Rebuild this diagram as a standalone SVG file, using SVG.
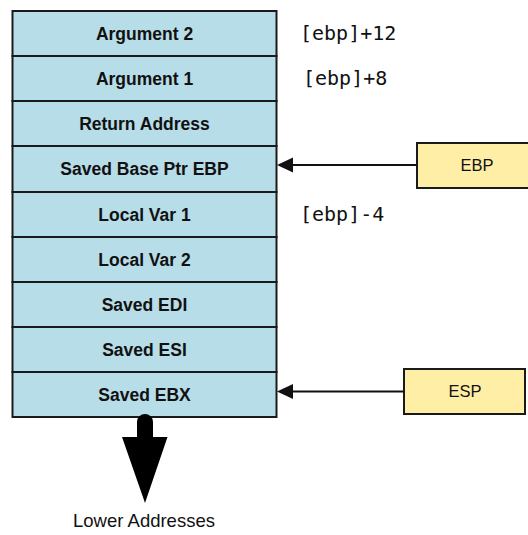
<svg xmlns="http://www.w3.org/2000/svg" width="528" height="535" viewBox="0 0 528 535">
<style>
.cell{fill:#b7dde8;stroke:#1a1a1a;stroke-width:2}
.lbl{font-family:"Liberation Sans",Arial,sans-serif;font-weight:bold;font-size:17.5px;fill:#111;text-anchor:middle}
.off{font-family:"DejaVu Sans Mono",monospace;font-size:20px;fill:#111}
.reg{fill:#ffeea6;stroke:#1a1a1a;stroke-width:2}
.regt{font-family:"Liberation Sans",Arial,sans-serif;font-size:16.5px;fill:#111;text-anchor:middle}
.conn{stroke:#111;stroke-width:2;fill:none}
</style>
<g id="stack">
<g id="arg2"><rect class="cell" x="12.5" y="11" width="264" height="45"/><text class="lbl" x="144.5" y="40">Argument 2</text></g>
<g id="arg1"><rect class="cell" x="12.5" y="56" width="264" height="45"/><text class="lbl" x="144.5" y="85">Argument 1</text></g>
<g id="ret"><rect class="cell" x="12.5" y="101" width="264" height="45"/><text class="lbl" x="144.5" y="130">Return Address</text></g>
<g id="savedebp"><rect class="cell" x="12.5" y="146" width="264" height="46"/><text class="lbl" x="144.5" y="175">Saved Base Ptr EBP</text></g>
<g id="local1"><rect class="cell" x="12.5" y="192" width="264" height="45"/><text class="lbl" x="144.5" y="221">Local Var 1</text></g>
<g id="local2"><rect class="cell" x="12.5" y="237" width="264" height="45"/><text class="lbl" x="144.5" y="266">Local Var 2</text></g>
<g id="edi"><rect class="cell" x="12.5" y="282" width="264" height="45"/><text class="lbl" x="144.5" y="311">Saved EDI</text></g>
<g id="esi"><rect class="cell" x="12.5" y="327" width="264" height="45"/><text class="lbl" x="144.5" y="356">Saved ESI</text></g>
<g id="ebx"><rect class="cell" x="12.5" y="372" width="264" height="45"/><text class="lbl" x="144.5" y="401">Saved EBX</text></g>
</g>
<g id="offsets">
<text class="off" x="300" y="40">[ebp]+12</text>
<text class="off" x="303" y="85">[ebp]+8</text>
<text class="off" x="300" y="221">[ebp]-4</text>
</g>
<g id="ebp"><rect class="reg" x="417" y="143" width="120" height="45"/><text class="regt" x="477" y="171">EBP</text></g>
<g id="esp"><rect class="reg" x="404" y="369" width="121" height="45"/><text class="regt" x="465" y="397">ESP</text></g>
<g id="connectors">
<line class="conn" x1="417" y1="165" x2="293" y2="165"/>
<path d="M277,165 L293,157.5 L293,172.5 Z" fill="#111"/>
<line class="conn" x1="404" y1="391.5" x2="293" y2="391.5"/>
<path d="M277,391.5 L293,384 L293,399 Z" fill="#111"/>
<path d="M137,437 L137,422 A8,8 0 0 1 153,422 L153,437 L167.5,437 L145,503 L122,437 Z" fill="#000"/>
</g>
<text x="144" y="527" font-family="Liberation Sans,Arial,sans-serif" font-size="18.5px" fill="#111" text-anchor="middle">Lower Addresses</text>
</svg>
